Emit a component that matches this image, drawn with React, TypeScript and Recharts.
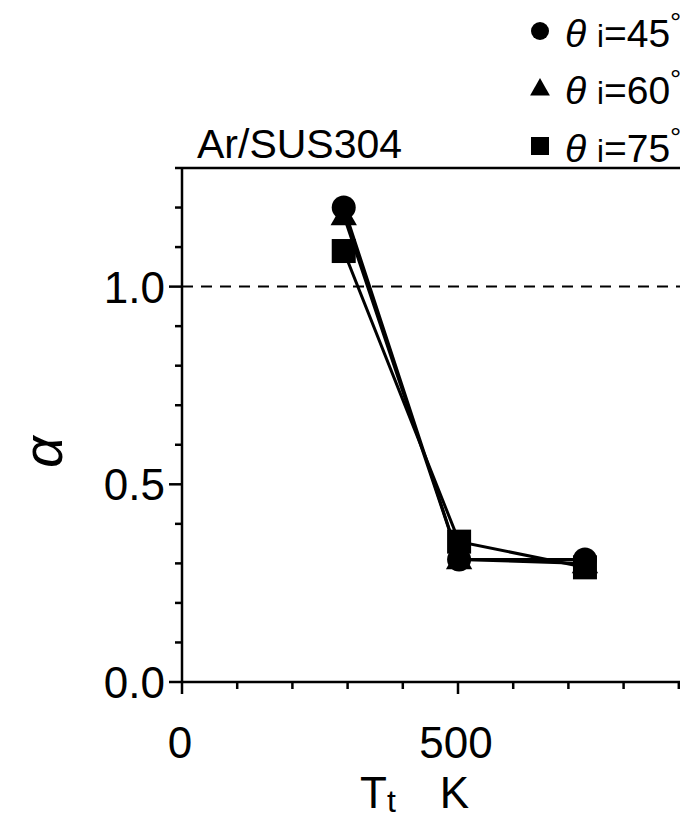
import React from "react";
import { LineChart, Line, XAxis, YAxis, ReferenceLine, Legend } from "recharts";

// surface temperature Tt (K) and accommodation coefficient alpha
const temps = [293, 502, 730];
const alpha45 = [1.2, 0.31, 0.31];
const alpha60 = [1.18, 0.31, 0.3];
const alpha75 = [1.09, 0.355, 0.29];

const xTicks = [0, 100, 200, 300, 400, 500, 600, 700, 800, 900, 1000];
const xLabels = [0, 500];
const yTicks = [0, 0.1, 0.2, 0.3, 0.4, 0.5, 0.6, 0.7, 0.8, 0.9, 1.0, 1.1, 1.2, 1.3];
const yLabels = [0, 0.5, 1.0];

const legendItems = [
  { angle: "45", shape: "circle" },
  { angle: "60", shape: "triangle" },
  { angle: "75", shape: "square" },
];

const FONT = '"Liberation Sans", Arial, Helvetica, sans-serif';
const INK = "#000";

const toPoints = (vals: number[]) => temps.map((t, i) => ({ x: t, y: vals[i] }));

const Marker = ({ cx, cy, shape, size }: any) => {
  if (cx == null || cy == null) return null;
  if (shape === "circle") return <circle cx={cx} cy={cy} r={size / 2} fill={INK} />;
  if (shape === "triangle") {
    const h = size * 0.55;
    return (
      <polygon
        points={`${cx},${cy - h} ${cx - h},${cy + h * 0.75} ${cx + h},${cy + h * 0.75}`}
        fill={INK}
      />
    );
  }
  return <rect x={cx - size / 2} y={cy - size / 2} width={size} height={size} fill={INK} />;
};

const dotFor = (shape: string) => (props: any) => (
  <Marker key={props.key ?? `${shape}-${props.index}`} cx={props.cx} cy={props.cy} shape={shape} size={24} />
);

const XTick = (props: any) => {
  const { x, y, payload } = props;
  const major = xLabels.includes(payload.value);
  return (
    <g>
      <line x1={x} y1={y} x2={x} y2={y + (major ? 12 : 7)} stroke={INK} strokeWidth={2.5} />
      {major && (
        <text x={x - 2} y={y + 76} textAnchor="middle" fontSize={44} fontFamily={FONT} fill={INK}>
          {payload.value}
        </text>
      )}
    </g>
  );
};

const YTick = (props: any) => {
  const { x, y, payload } = props;
  const major = yLabels.some((v) => Math.abs(v - payload.value) < 1e-6);
  return (
    <g>
      <line x1={x - (major ? 13 : 7)} y1={y} x2={x} y2={y} stroke={INK} strokeWidth={2.5} />
      {major && (
        <text x={x - 17} y={y + 16} textAnchor="end" fontSize={44} fontFamily={FONT} fill={INK}>
          {payload.value.toFixed(1)}
        </text>
      )}
    </g>
  );
};

const renderLegend = () => (
  <div style={{ fontFamily: FONT, color: INK }}>
    {legendItems.map((it) => (
      <div key={it.angle} style={{ display: "flex", alignItems: "center", height: 57.5 }}>
        <svg width={26} height={26} style={{ marginRight: 12 }}>
          <Marker cx={13} cy={13} shape={it.shape} size={18} />
        </svg>
        <span style={{ fontSize: 39, whiteSpace: "nowrap", lineHeight: 1 }}>
          <i>θ</i> <span style={{ fontSize: 31 }}>i</span>={it.angle}
          <span style={{ fontSize: 28, verticalAlign: "15px" }}>°</span>
        </span>
      </div>
    ))}
  </div>
);

export default function App() {
  return (
    <div
      style={{
        position: "absolute",
        left: 0,
        top: 0,
        width: 680,
        height: 826,
        overflow: "hidden",
        background: "#fff",
      }}
    >
      <LineChart width={760} height={826} margin={{ top: 168, right: 26, left: 0, bottom: 0 }}>
        <XAxis
          type="number"
          dataKey="x"
          domain={[0, 1000]}
          ticks={xTicks}
          interval={0}
          tick={<XTick />}
          tickSize={0}
          tickMargin={0}
          tickLine={false}
          axisLine={{ stroke: INK, strokeWidth: 2.5 }}
          height={144}
          allowDataOverflow
          label={{
            content: (p: any) => {
              const vb = p.viewBox;
              return (
                <text x={vb.x + 178} y={vb.y + 126} fontSize={44} fontFamily={FONT} fill={INK}>
                  T<tspan fontSize={32} dy={4}>t</tspan>
                  <tspan dy={-4} dx={44}>K</tspan>
                </text>
              );
            },
          }}
        />
        <YAxis
          type="number"
          dataKey="y"
          domain={[0, 1.3]}
          ticks={yTicks}
          interval={0}
          tick={<YTick />}
          tickSize={0}
          tickMargin={0}
          tickLine={false}
          axisLine={{ stroke: INK, strokeWidth: 2.5 }}
          width={182}
          allowDataOverflow
          label={{
            content: (p: any) => {
              const vb = p.viewBox;
              const cx = 42;
              const cy = vb.y + 284;
              return (
                <text
                  x={cx}
                  y={cy}
                  transform={`rotate(-90 ${cx} ${cy})`}
                  textAnchor="middle"
                  dominantBaseline="central"
                  fontSize={56}
                  fontStyle="italic"
                  fontFamily={FONT}
                  fill={INK}
                >
                  α
                </text>
              );
            },
          }}
        />
        <ReferenceLine
          y={1.3}
          stroke={INK}
          strokeWidth={2.5}
          label={{
            content: (p: any) => {
              const vb = p.viewBox;
              return (
                <text x={vb.x + 15} y={vb.y - 10} fontSize={41} fontFamily={FONT} fill={INK}>
                  Ar/SUS304
                </text>
              );
            },
          }}
        />
        <ReferenceLine y={1.0} stroke={INK} strokeWidth={2} strokeDasharray="11 8" />
        <Line
          data={toPoints(alpha45)}
          dataKey="y"
          name="θi=45°"
          type="linear"
          stroke={INK}
          strokeWidth={3}
          dot={dotFor("circle")}
          isAnimationActive={false}
        />
        <Line
          data={toPoints(alpha60)}
          dataKey="y"
          name="θi=60°"
          type="linear"
          stroke={INK}
          strokeWidth={3}
          dot={dotFor("triangle")}
          isAnimationActive={false}
        />
        <Line
          data={toPoints(alpha75)}
          dataKey="y"
          name="θi=75°"
          type="linear"
          stroke={INK}
          strokeWidth={3}
          dot={dotFor("square")}
          isAnimationActive={false}
        />
        <Legend
          layout="vertical"
          align="center"
          verticalAlign="middle"
          content={renderLegend}
          wrapperStyle={{ position: "absolute", left: 527, top: 2, width: 170 }}
        />
      </LineChart>
    </div>
  );
}
